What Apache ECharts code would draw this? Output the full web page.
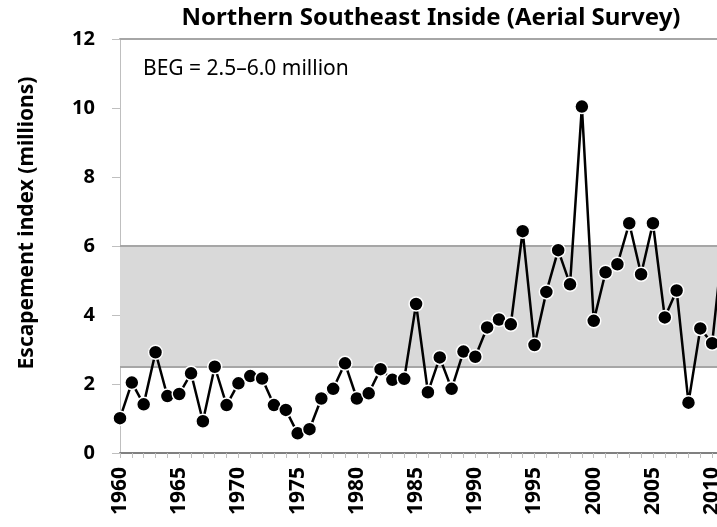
<!DOCTYPE html>
<html>
<head>
<meta charset="utf-8">
<script src="https://cdn.jsdelivr.net/npm/echarts@6/dist/echarts.min.js"></script>
<style>
  html, body { margin: 0; padding: 0; background: #fff; overflow: hidden; }
  /* drawn wider than the window so the plot is cropped at the right like the source */
  #chart { width: 730px; height: 527px; }
</style>
</head>
<body>
<div id="chart"></div>
<script>
const years = [];
for (let y = 1960; y <= 2011; y++) years.push(y);

// escapement index, millions
const escapement = [
  1.01, 2.04, 1.41, 2.92, 1.65, 1.71, 2.31, 0.92, 2.50, 1.39,
  2.02, 2.23, 2.16, 1.39, 1.25, 0.57, 0.69, 1.58, 1.86, 2.60,
  1.58, 1.73, 2.43, 2.12, 2.15, 4.32, 1.76, 2.77, 1.86, 2.94,
  2.79, 3.64, 3.87, 3.73, 6.43, 3.13, 4.67, 5.88, 4.89, 10.04,
  3.83, 5.24, 5.47, 6.66, 5.18, 6.66, 3.93, 4.71, 1.46, 3.61,
  3.18, 6.4
];

const begLow = 2.5;
const begHigh = 6.0;
const yTicks = [0, 2, 4, 6, 8, 10, 12];

const font = '"Noto Sans", "Open Sans", sans-serif';
const chart = echarts.init(document.getElementById('chart'));

chart.setOption({
  animation: false,
  backgroundColor: '#fff',
  title: {
    text: 'Northern Southeast Inside (Aerial Survey)',
    left: 426, top: 1, textAlign: 'center',
    textStyle: { fontFamily: font, fontWeight: 'bold', fontSize: 24, color: '#000' }
  },
  grid: { left: 120, width: 604, top: 39, bottom: 74, containLabel: false },
  graphic: [
    {
      type: 'text', left: 143, top: 59,
      style: { text: 'BEG = 2.5–6.0 million', font: '21px ' + font, fill: '#000' }
    },
    {
      type: 'text', x: 27, y: 223, rotation: Math.PI / 2,
      style: {
        text: 'Escapement index (millions)', font: 'bold 21px ' + font, fill: '#000',
        align: 'center', verticalAlign: 'middle'
      }
    }
  ],
  xAxis: [
    {
      type: 'value', min: 1960, max: 2011, interval: 1,
      axisLine: { show: true, lineStyle: { color: '#808080', width: 2 } },
      axisTick: { show: true, length: 5, lineStyle: { color: '#bfbfbf' } },
      splitLine: { show: false },
      axisLabel: {
        rotate: 90, margin: 14, color: '#000',
        fontFamily: font, fontWeight: 'bold', fontSize: 21,
        showMaxLabel: false,
        formatter: v => (v % 5 === 0 ? String(v) : '')
      }
    },
    {
      type: 'value', min: 1960, max: 2011, position: 'top',
      axisLine: { show: true, lineStyle: { color: '#a6a6a6', width: 2 } },
      axisTick: { show: false }, axisLabel: { show: false }, splitLine: { show: false }
    }
  ],
  yAxis: {
    type: 'value', min: yTicks[0], max: yTicks[yTicks.length - 1], interval: 2,
    axisLine: { show: true, lineStyle: { color: '#bfbfbf', width: 1 } },
    axisTick: { show: true, length: 8, lineStyle: { color: '#bfbfbf' } },
    splitLine: { show: false },
    axisLabel: { margin: 25, color: '#000', fontFamily: font, fontWeight: 'bold', fontSize: 20 }
  },
  series: [
    {
      name: 'Escapement',
      type: 'line',
      data: years.map((y, i) => [y, escapement[i]]),
      clip: false,
      symbol: 'circle',
      symbolSize: 14,
      lineStyle: { color: '#000', width: 2.5 },
      itemStyle: { color: '#000', borderColor: '#fff', borderWidth: 1.5 },
      z: 5,
      markArea: {
        silent: true,
        itemStyle: { color: '#d9d9d9', borderWidth: 0 },
        data: [[{ yAxis: begLow }, { yAxis: begHigh }]]
      },
      markLine: {
        silent: true, symbol: 'none', label: { show: false },
        lineStyle: { color: '#a6a6a6', width: 2, type: 'solid' },
        data: [{ yAxis: begLow }, { yAxis: begHigh }]
      }
    }
  ]
});
</script>
</body>
</html>
